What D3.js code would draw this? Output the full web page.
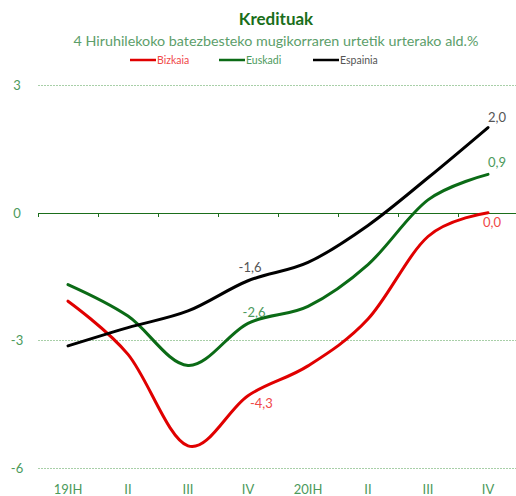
<!DOCTYPE html>
<meta charset="utf-8">
<head>
    <title>Kredituak</title>
    <style>
        body { margin: 0; background: #fff; font-family: Lato, sans-serif; }
        .grid line { stroke: #a8cfa8; stroke-dasharray: 2,1; stroke-width: 1px; shape-rendering: crispEdges; }
        .axis text { fill: #4c9a5c; font-size: 13px; }
        .zero line, .zero path { stroke: #1b6e1b; shape-rendering: crispEdges; }
    </style>
    <script src="https://d3js.org/d3.v7.min.js"></script>
</head>
<body>
<svg width="516" height="496"></svg>
<script>
    var categories = ["19IH", "II", "III", "IV", "20IH", "II", "III", "IV"];
    var yTicks = [3, 0, -3, -6];
    var bizkaia  = [-2.08, -3.33, -5.48, -4.3, -3.6, -2.5, -0.56, 0.0];
    var euskadi  = [-1.69, -2.43, -3.59, -2.6, -2.2, -1.22, 0.3, 0.9];
    var espainia = [-3.13, -2.7, -2.31, -1.6, -1.17, -0.3, 0.82, 2.0];

    var series = [
        {name: "Bizkaia", values: bizkaia, color: "#e00000", text: "#f04848", lx: 130, labels: [[3, "-4,3", 2, 12, "start"], [7, "0,0", 4, 14, "middle"]]},
        {name: "Euskadi", values: euskadi, color: "#0b6b16", text: "#4c9a5c", lx: 219, labels: [[3, "-2,6", 6, -6, "middle"], [7, "0,9", 9, -7, "middle"]]},
        {name: "Espainia", values: espainia, color: "#000000", text: "#555555", lx: 313, labels: [[3, "-1,6", 2, -9, "middle"], [7, "2,0", 9, -6, "middle"]]}
    ];

    var svg = d3.select("svg");

    var x = d3.scaleBand().domain(d3.range(categories.length)).range([38, 518]);
    var y = d3.scaleLinear().domain([-6, 3]).range([468, 85]);

    // title
    svg.append("text").attr("x", 276).attr("y", 25).attr("text-anchor", "middle")
        .style("font-size", "17px").style("font-weight", "bold").style("fill", "#1a6e1a")
        .text("Kredituak");
    svg.append("text").attr("x", 276).attr("y", 46).attr("text-anchor", "middle")
        .style("font-size", "14.3px").style("fill", "#5c9e6a")
        .text("4 Hiruhilekoko batezbesteko mugikorraren urtetik urterako ald.%");

    // legend
    series.forEach(function(s) {
        svg.append("line").attr("x1", s.lx).attr("x2", s.lx + 26).attr("y1", 60).attr("y2", 60)
            .attr("stroke", s.color).attr("stroke-width", 2.5);
        svg.append("text").attr("x", s.lx + 27).attr("y", 63.5)
            .style("font-size", "10.5px").style("fill", s.text).text(s.name);
    });

    // gridlines
    svg.append("g").attr("class", "grid")
        .selectAll("line").data(yTicks.filter(function(d) { return d !== 0; }))
        .enter().append("line")
        .attr("x1", 38).attr("x2", 516)
        .attr("y1", function(d) { return Math.round(y(d)) + 0.5; })
        .attr("y2", function(d) { return Math.round(y(d)) + 0.5; });

    // y labels
    svg.append("g").attr("class", "axis")
        .selectAll("text").data(yTicks).enter().append("text")
        .attr("x", 17).attr("y", function(d) { return y(d) + 5; })
        .attr("text-anchor", "middle")
        .text(function(d) { return d; });

    // zero line with category ticks
    var zero = svg.append("g").attr("class", "zero");
    zero.append("line").attr("x1", 38).attr("x2", 516)
        .attr("y1", Math.round(y(0)) + 0.5).attr("y2", Math.round(y(0)) + 0.5).attr("stroke-width", 1.3);
    zero.selectAll(".tk").data(d3.range(categories.length + 1)).enter().append("line")
        .attr("class", "tk")
        .attr("x1", function(d) { return 38 + d * x.bandwidth() + 0.5; })
        .attr("x2", function(d) { return 38 + d * x.bandwidth() + 0.5; })
        .attr("y1", y(0)).attr("y2", y(0) + 4);

    // x labels
    svg.append("g").attr("class", "axis")
        .selectAll("text").data(categories).enter().append("text")
        .attr("x", function(d, i) { return x(i) + x.bandwidth() / 2; })
        .attr("y", 494)
        .attr("text-anchor", "middle")
        .text(function(d) { return d; });

    var line = d3.line()
        .x(function(d, i) { return x(i) + x.bandwidth() / 2; })
        .y(function(d) { return y(d); })
        .curve(d3.curveCatmullRom.alpha(0));

    series.forEach(function(s) {
        svg.append("path").datum(s.values)
            .attr("fill", "none").attr("stroke", s.color).attr("stroke-width", 3)
            .attr("stroke-linecap", "round")
            .attr("d", line);
        s.labels.forEach(function(l) {
            svg.append("text")
                .attr("x", x(l[0]) + x.bandwidth() / 2 + l[2])
                .attr("y", y(s.values[l[0]]) + l[3])
                .attr("text-anchor", l[4])
                .style("font-size", "13px").style("fill", s.text)
                .text(l[1]);
        });
    });
</script>
</body>
